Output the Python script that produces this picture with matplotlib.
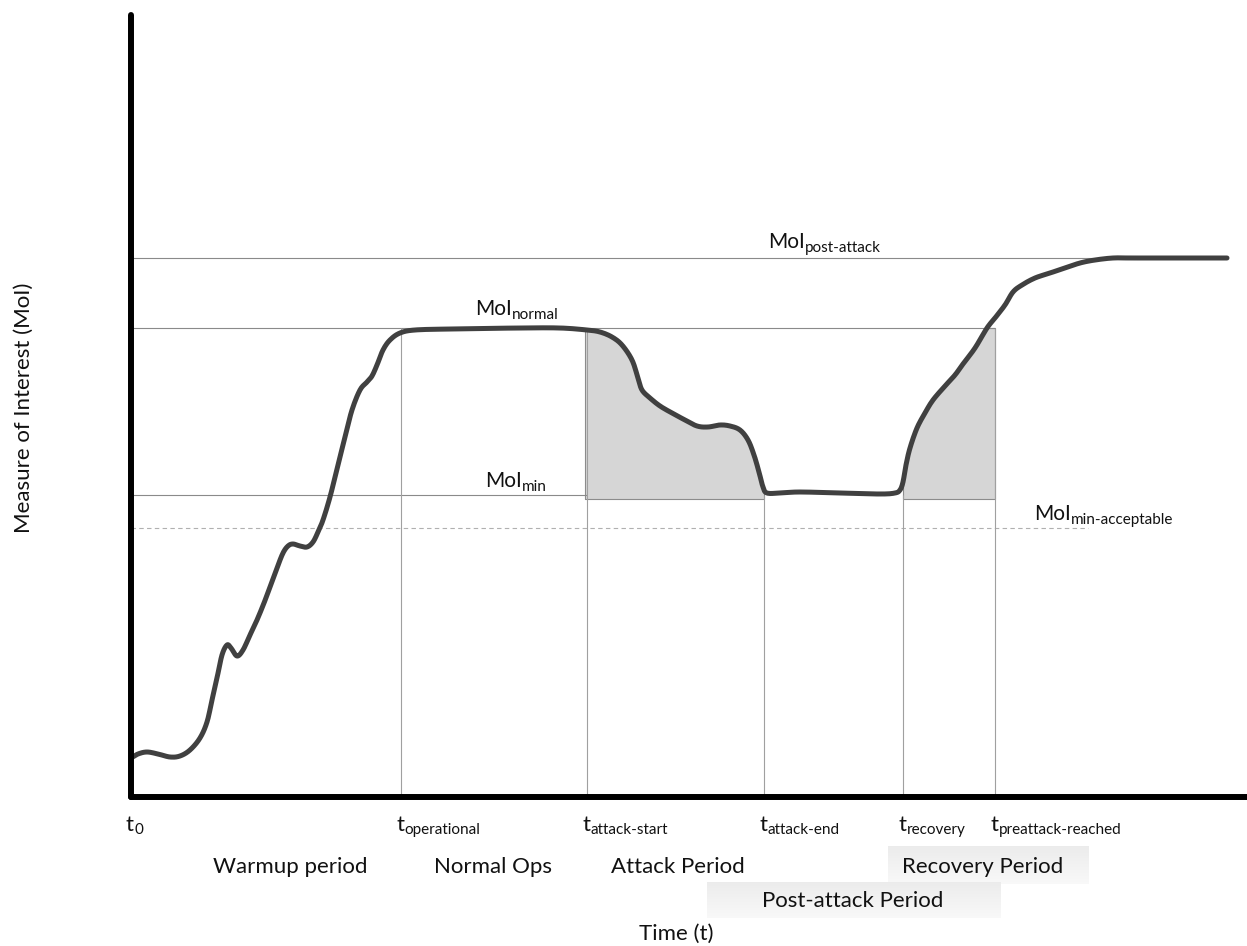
import matplotlib
matplotlib.use("Agg")
import matplotlib.pyplot as plt
import numpy as np

plt.rcParams['font.family'] = ['Lato', 'DejaVu Sans']

# measure of interest over time (arbitrary units)
t_curve = [0.0, 0.7, 1.6, 2.7, 3.9, 4.9, 5.9, 6.9, 7.6, 8.1, 8.6, 9.1, 9.6, 10.0,
           10.6, 11.2, 11.9, 12.6, 13.3, 13.9, 14.6, 15.2, 15.7, 16.2, 16.9, 17.6,
           18.2, 18.7, 19.2, 19.9, 20.7, 21.4, 22.1, 22.9, 23.6, 24.1, 24.6, 25.2,
           25.9, 26.9, 28.4, 31.9, 38.9, 42.9, 45.6, 46.9, 48.1, 49.1, 50.1, 50.7,
           51.1, 51.9, 52.9, 54.1, 55.4, 56.6, 57.7, 58.9, 59.9, 60.9, 61.7, 62.3,
           62.8, 63.2, 63.6, 64.9, 66.9, 70.9, 74.9, 76.4, 76.9, 77.2, 77.5, 77.9,
           78.6, 79.4, 80.2, 81.4, 82.4, 83.2, 84.4, 85.6, 86.4, 87.4, 88.2, 89.1,
           90.4, 91.9, 93.4, 94.9, 96.4, 98.2, 100.0, 104.0, 109.6]
moi_curve = [3.9, 4.3, 4.5, 4.3, 4.0, 4.1, 4.7, 5.9, 7.5, 9.7, 11.9, 14.2, 15.2, 14.9,
             14.1, 14.7, 16.2, 17.7, 19.4, 21.0, 22.9, 24.4, 25.1, 25.3, 25.1, 25.0,
             25.5, 26.5, 27.7, 30.0, 33.2, 36.0, 38.7, 40.7, 41.5, 42.1, 43.2, 44.7,
             45.7, 46.4, 46.7, 46.8, 46.9, 46.9, 46.7, 46.5, 46.0, 45.2, 43.7, 41.9,
             40.7, 39.9, 39.1, 38.4, 37.7, 37.1, 37.0, 37.2, 37.1, 36.7, 35.7, 34.2,
             32.5, 31.0, 30.4, 30.4, 30.5, 30.4, 30.3, 30.4, 30.7, 31.5, 33.2, 34.9,
             36.9, 38.4, 39.7, 41.1, 42.2, 43.3, 44.9, 46.9, 47.9, 49.2, 50.5, 51.2,
             51.9, 52.4, 52.9, 53.4, 53.7, 53.9, 53.9, 53.9, 53.9]

# event times
t_operational = 27.0
t_attack_start = 45.6
t_attack_end = 63.3
t_recovery = 77.2
t_preattack = 86.4

# reference levels
moi_post_attack = 53.9
moi_normal = 46.9
moi_min = 30.2
moi_min_acceptable = 26.9

t_labels = [("t", "0", 0.0), ("t", "operational", t_operational),
            ("t", "attack-start", t_attack_start), ("t", "attack-end", t_attack_end),
            ("t", "recovery", t_recovery), ("t", "preattack-reached", t_preattack)]

periods = [("Warmup period", 15.9), ("Normal Ops", 36.2), ("Attack Period", 54.7)]

line_col = '#404040'
ref_col = '#8a8a8a'
txt_col = '#111111'


def catmull_rom(x, y, n=10):
    # smooth pass through the given points (drawing only)
    p = np.column_stack([x, y])
    p = np.vstack([p[0], p, p[-1]])
    out = []
    s = np.linspace(0, 1, n, endpoint=False)[:, None]
    for i in range(1, len(p) - 2):
        p0, p1, p2, p3 = p[i - 1], p[i], p[i + 1], p[i + 2]
        seg = 0.5 * (2 * p1 + (p2 - p0) * s + (2 * p0 - 5 * p1 + 4 * p2 - p3) * s ** 2
                     + (3 * p1 - p0 - 3 * p2 + p3) * s ** 3)
        out.append(seg)
    out.append(p[-2][None, :])
    out = np.vstack(out)
    return out[:, 0], out[:, 1]


fig = plt.figure(figsize=(12.47, 9.46), dpi=100)
ax = fig.add_axes([131 / 1247, 149 / 946, 1116 / 1247, 782 / 946])
ax.set_xticks([])
ax.set_yticks([])
for s in ['top', 'right']:
    ax.spines[s].set_visible(False)
for s in ['left', 'bottom']:
    ax.spines[s].set_linewidth(4.3)
    ax.spines[s].set_capstyle('round')
    ax.spines[s].set_zorder(5)

tc, mc = catmull_rom(t_curve, moi_curve)

# shaded loss / recovery areas
base = moi_min - 0.4
m = (tc >= t_attack_start) & (tc <= t_attack_end)
xs = np.concatenate([[t_attack_start - 0.2], tc[m], [t_attack_end]])
ys = np.interp(xs, tc, mc)
ax.fill_between(xs, base, ys, color='#d6d6d6', edgecolor='#8c8c8c', lw=0.8, zorder=1)
m = (tc >= t_recovery) & (tc <= t_preattack)
xs = np.concatenate([[t_recovery], tc[m], [t_preattack]])
ys = np.minimum(np.interp(xs, tc, mc), moi_normal)
ax.fill_between(xs, base, ys, color='#d6d6d6', edgecolor='#8c8c8c', lw=0.8, zorder=1)

# reference levels
ax.hlines(moi_post_attack, 0, 98.2, color=ref_col, lw=0.8, zorder=2)
ax.hlines(moi_normal, 0, t_preattack, color=ref_col, lw=0.8, zorder=2)
ax.hlines(moi_min, 0, t_attack_start, color=ref_col, lw=0.8, zorder=2)
ax.hlines(moi_min_acceptable, 0, 95.7, color='#b0b0b0', lw=0.8,
          linestyles=(0, (4, 3)), zorder=2)

# event markers
for t, top in [(t_operational, moi_normal), (t_attack_start, moi_normal),
               (t_attack_end, moi_min), (t_recovery, moi_min), (t_preattack, moi_normal)]:
    ax.vlines(t, 0, top, color='#a0a0a0', lw=0.8, zorder=2)

ax.plot(tc, mc, color=line_col, lw=3.6, solid_capstyle='round',
        solid_joinstyle='round', zorder=4)


def sub_text(x, y, main, sub, size, subsize, dy=-2.5):
    txt = ax.text(x, y, main, fontsize=size, ha='left', va='baseline',
                  clip_on=False, color=txt_col)
    ax.annotate(sub, xy=(1, 0), xycoords=txt, xytext=(0.3, dy),
                textcoords='offset points', fontsize=subsize, ha='left',
                va='bottom', color=txt_col, annotation_clip=False)


for main, sub, t in t_labels:
    sub_text(t - 0.5, -3.4, main, sub, 16, 11, dy=-1.5)

sub_text(63.7, 54.9, "MoI", "post-attack", 15, 11)
sub_text(34.4, 48.2, "MoI", "normal", 15, 11)
sub_text(35.4, 31.0, "MoI", "min", 15, 11)
sub_text(90.3, 27.7, "MoI", "min-acceptable", 15, 11)

for label, x in periods:
    ax.text(x, -7.6, label, fontsize=16, ha='center', va='baseline',
            color=txt_col, clip_on=False)

# light gradient boxes behind the overlapping period labels
shade = np.linspace(0.975, 0.925, 40)
grad = np.repeat(shade[:, None, None], 3, axis=2)
for ext in [(75.7, 95.7, -8.7, -4.9), (57.6, 86.9, -12.1, -8.5)]:
    ax.imshow(grad, aspect='auto', extent=ext, origin='lower', zorder=0,
              clip_on=False, interpolation='bilinear')
ax.text(85.2, -7.6, "Recovery Period", fontsize=16, ha='center', va='baseline',
        color=txt_col, clip_on=False)
ax.text(72.2, -11.0, "Post-attack Period", fontsize=16, ha='center', va='baseline',
        color=txt_col, clip_on=False)
ax.set_xlim(0, 111.6)
ax.set_ylim(0, 78.2)

fig.text(676 / 1247, 1 - 940 / 946, "Time (t)", fontsize=16, ha='center',
         va='baseline', color=txt_col)
fig.text(24 / 1247, 1 - 408 / 946, "Measure of Interest (MoI)", fontsize=16,
         ha='center', va='center', rotation=90, color=txt_col)

fig.savefig("out.png", dpi=100)
